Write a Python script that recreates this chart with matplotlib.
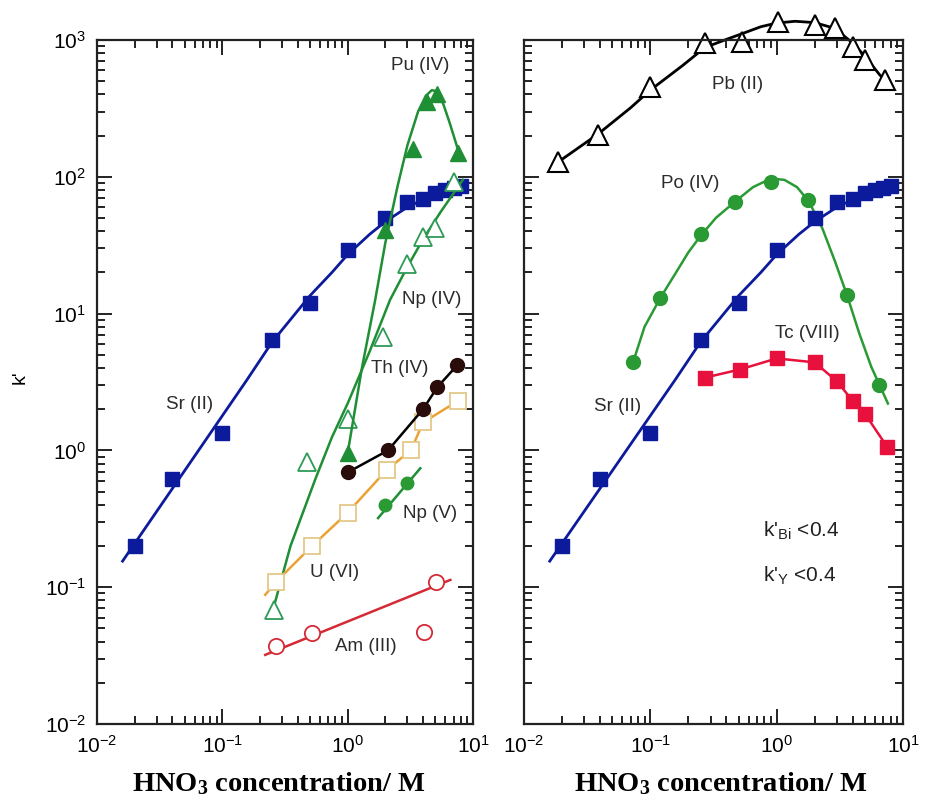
"""
k' of metal ions vs. HNO3 concentration (two log-log panels)
"""
import numpy as np
import matplotlib.pyplot as plt
from matplotlib.ticker import FixedLocator, NullFormatter

plt.rcParams['font.family'] = ['Liberation Sans', 'DejaVu Sans']
plt.rcParams['mathtext.default'] = 'regular'

# ---- left panel ----
sr_x = [0.02, 0.04, 0.1, 0.25, 0.5, 1.0, 2.0, 3.0, 4.0, 5.0, 6.0, 7.0, 8.0]
sr_y = [0.2, 0.62, 1.35, 6.4, 12, 29, 50, 65, 69, 76, 80, 83, 85]
sr_fit_x = [0.016, 0.157, 0.25, 0.5, 0.75, 1.0, 1.5, 2.0, 3.0, 4.0, 5.0, 6.5, 8.0]
sr_fit_y = [0.155, 3.27, 6.2, 13.5, 20, 27, 38, 47, 60, 68, 74, 80, 86]

pu_x = [1.0, 2.0, 3.3, 4.3, 5.2, 7.6]
pu_y = [0.95, 41, 160, 350, 400, 150]
pu_fit_x = [1.0, 1.3, 1.66, 2.0, 2.5, 3.0, 3.65, 4.2, 4.7, 5.2, 5.8, 6.5, 7.2, 8.0]
pu_fit_y = [0.95, 4.0, 12.6, 33, 85, 170, 300, 390, 430, 420, 340, 250, 185, 135]

np4_x = [0.26, 0.47, 1.0, 1.9, 3.0, 4.0, 5.0, 7.0]
np4_y = [0.068, 0.82, 1.7, 6.7, 23, 36, 42, 92]
np4_fit_x = [0.25, 0.35, 0.55, 0.75, 1.0, 1.5, 2.18, 3.0, 4.0, 5.5, 8.3]
np4_fit_y = [0.065, 0.2, 0.61, 1.25, 2.2, 5.3, 12.6, 22, 35, 55, 95]

th_x = [1.0, 2.1, 4.0, 5.2, 7.5]
th_y = [0.69, 1.0, 2.0, 2.9, 4.2]

u_x = [0.27, 0.52, 1.0, 2.05, 3.2, 4.0, 7.6]
u_y = [0.11, 0.2, 0.35, 0.72, 1.0, 1.6, 2.3]
u_fit_x = [0.22] + u_x
u_fit_y = [0.088] + u_y

np5_x = [2.0, 3.0]
np5_y = [0.40, 0.58]
np5_fit_x = [1.75, 3.8]
np5_fit_y = [0.32, 0.74]

am_x = [0.27, 0.52, 5.1, 4.1]
am_y = [0.037, 0.046, 0.11, 0.047]
am_fit_x = [0.22, 6.6]
am_fit_y = [0.032, 0.113]

# ---- right panel ----
pb_x = [0.0186, 0.0385, 0.1, 0.27, 0.53, 1.03, 2.0, 2.9, 4.0, 5.0, 7.2]
pb_y = [128, 202, 450, 950, 970, 1350, 1290, 1220, 890, 715, 510]
pb_fit_x = [0.0186, 0.0385, 0.07, 0.1, 0.18, 0.27, 0.4, 0.53, 0.75, 1.0, 1.4,
            2.0, 2.6, 3.0, 4.0, 5.0, 6.5, 8.2]
pb_fit_y = [128, 205, 320, 430, 650, 880, 1010, 1110, 1250, 1330, 1370,
            1340, 1250, 1180, 950, 760, 560, 446]

po_x = [0.073, 0.12, 0.25, 0.47, 0.9, 1.77, 3.6, 6.4]
po_y = [4.4, 13, 38, 65, 92, 68, 13.7, 3.0]
po_fit_x = [0.073, 0.09, 0.12, 0.16, 0.2, 0.25, 0.33, 0.47, 0.65, 0.9, 1.15,
            1.45, 1.8, 2.3, 2.9, 3.6, 4.5, 5.6, 7.6]
po_fit_y = [4.4, 8, 13, 20, 28, 37, 50, 66, 84, 97, 95,
            84, 66, 42, 24, 13.7, 7.2, 4.1, 2.2]

tc_x = [0.27, 0.51, 1.0, 2.0, 3.0, 4.0, 5.0, 7.5]
tc_y = [3.4, 3.9, 4.7, 4.4, 3.2, 2.3, 1.85, 1.06]

BLUE = '#0c1a9c'
GREEN = '#1f8f35'
RED = '#d42a36'
CRIMSON = '#e8103c'
ORANGE = '#eaa235'
LABEL_C = '#2b2b2b'


def minor_locs(lo_exp, hi_exp):
    """2..9 x 10^e for every decade in range"""
    return [m * 10.0 ** e for e in range(lo_exp, hi_exp) for m in range(2, 10)]


fig = plt.figure(figsize=(9.29, 8.11), dpi=100)
ax1 = fig.add_axes([0.1044, 0.1073, 0.4047, 0.8434])
ax2 = fig.add_axes([0.5640, 0.1073, 0.4080, 0.8434])

for ax in (ax1, ax2):
    ax.set_xscale('log')
    ax.set_yscale('log')
    ax.set_xlim(1e-2, 1e1)
    ax.set_ylim(1e-2, 1e3)
    ax.set_xticks([1e-2, 1e-1, 1e0, 1e1])
    ax.set_yticks([1e-2, 1e-1, 1e0, 1e1, 1e2, 1e3])
    ax.xaxis.set_minor_locator(FixedLocator(minor_locs(-2, 1)))
    ax.yaxis.set_minor_locator(FixedLocator(minor_locs(-2, 3)))
    ax.xaxis.set_minor_formatter(NullFormatter())
    ax.yaxis.set_minor_formatter(NullFormatter())
    ax.tick_params(which='both', direction='in', top=True, right=True,
                   width=1.4, color='#222222', labelsize=15, pad=8)
    ax.tick_params(which='major', length=11)
    ax.tick_params(which='minor', length=5.5)
    for sp in ax.spines.values():
        sp.set_linewidth(1.6)
        sp.set_color('#222222')

ax2.tick_params(axis='y', which='both', labelleft=False)

# left panel curves and points
ax1.plot(sr_fit_x, sr_fit_y, color=BLUE, lw=2)
ax1.plot(sr_x, sr_y, 's', color=BLUE, ms=10)

ax1.plot(np4_fit_x, np4_fit_y, color=GREEN, lw=1.8)
ax1.plot(np4_x, np4_y, '^', mfc='white', mec='#2d9a55', mew=1.3, ms=13)

ax1.plot(pu_fit_x, pu_fit_y, color=GREEN, lw=1.8)
ax1.plot(pu_x, pu_y, '^', color=GREEN, ms=12)

ax1.plot(u_fit_x, u_fit_y, color=ORANGE, lw=1.8)
ax1.plot(u_x, u_y, 's', mfc='white', mec='#e4c888', mew=1.3, ms=11)

ax1.plot(th_x, th_y, color='black', lw=1.8)
ax1.plot(th_x, th_y, 'o', color='#2a0c0a', ms=10)

ax1.plot(np5_fit_x, np5_fit_y, color=GREEN, lw=1.8)
ax1.plot(np5_x, np5_y, 'o', color='#2a9a35', ms=9)

ax1.plot(am_fit_x, am_fit_y, color=RED, lw=1.8)
ax1.plot(am_x, am_y, 'o', mfc='white', mec=RED, mew=1.3, ms=11)

# right panel curves and points
ax2.plot(pb_fit_x, pb_fit_y, color='black', lw=2, clip_on=False)
ax2.plot(pb_x, pb_y, '^', mfc='white', mec='black', mew=1.5, ms=14, clip_on=False)

ax2.plot(po_fit_x, po_fit_y, color='#2a9a35', lw=1.8)
ax2.plot(po_x, po_y, 'o', color='#2a9a35', ms=10)

ax2.plot(sr_fit_x, sr_fit_y, color=BLUE, lw=2)
ax2.plot(sr_x, sr_y, 's', color=BLUE, ms=10)

ax2.plot(tc_x, tc_y, color=CRIMSON, lw=1.8)
ax2.plot(tc_x, tc_y, 's', color=CRIMSON, ms=10)

# series labels
lab = dict(fontsize=13.5, color=LABEL_C, ha='center', va='center')
ax1.text(0.0552, 2.15, 'Sr (II)', **lab)
ax1.text(3.78, 656, 'Pu (IV)', **lab)
ax1.text(4.72, 12.6, 'Np (IV)', **lab)
ax1.text(2.62, 4.0, 'Th (IV)', **lab)
ax1.text(4.55, 0.348, 'Np (V)', **lab)
ax1.text(0.79, 0.129, 'U (VI)', **lab)
ax1.text(1.40, 0.0366, 'Am (III)', **lab)

ax2.text(0.494, 469, 'Pb (II)', **lab)
ax2.text(0.206, 90, 'Po (IV)', **lab)
ax2.text(1.74, 7.2, 'Tc (VIII)', **lab)
ax2.text(0.0555, 2.1, 'Sr (II)', **lab)

ax2.text(0.78, 0.26, "k'$_{Bi}$ <0.4", fontsize=15, color='#222222', ha='left', va='center')
ax2.text(0.78, 0.122, "k'$_{Y}$ <0.4", fontsize=15, color='#222222', ha='left', va='center')

fig.text(0.022, 0.535, "k'", fontsize=14, rotation=90, ha='center', va='center')
for cx in (0.300, 0.776):
    fig.text(cx, 0.017, 'HNO$_3$ concentration/ M', fontsize=20.5,
             fontfamily='Liberation Serif', fontweight='bold', ha='center', va='bottom')

fig.savefig('out.png', dpi=100)
